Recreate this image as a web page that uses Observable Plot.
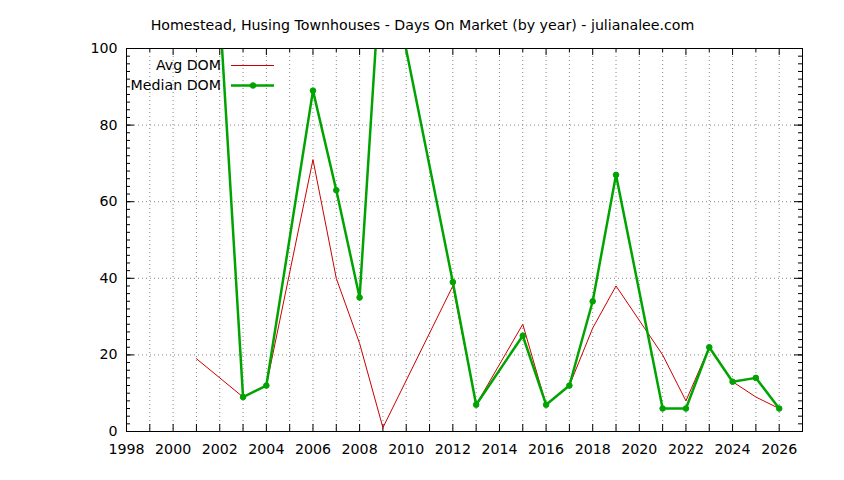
<!DOCTYPE html>
<html>
<head>
<meta charset="utf-8">
<script src="https://cdn.jsdelivr.net/npm/d3@7"></script>
<script src="https://cdn.jsdelivr.net/npm/@observablehq/plot@0.6"></script>
<style>
  html, body { margin: 0; padding: 0; background: #fff; }
  #chart { width: 844px; height: 480px; }
</style>
</head>
<body>
<div id="chart"></div>
<script>
const title = "Homestead, Husing Townhouses - Days On Market (by year) - julianalee.com";

const avgYears = [2001, 2003, 2004, 2006, 2007, 2008, 2009, 2012, 2013, 2015, 2016, 2017, 2018, 2019, 2021, 2022, 2023, 2024, 2025, 2026];
const avgDom   = [19, 9, 12, 71, 40, 23, 1, 38, 7, 28, 7, 12, 27, 38, 20, 8, 22, 13, 9, 6];

const medianYears = [2002, 2003, 2004, 2006, 2007, 2008, 2009, 2012, 2013, 2015, 2016, 2017, 2018, 2019, 2021, 2022, 2023, 2024, 2025, 2026];
const medianDom   = [110, 9, 12, 89, 63, 35, 130, 39, 7, 25, 7, 12, 34, 67, 6, 6, 22, 13, 14, 6];

const xTickLabels = [1998, 2000, 2002, 2004, 2006, 2008, 2010, 2012, 2014, 2016, 2018, 2020, 2022, 2024, 2026];
const xTicksAll = d3.range(1998, 2028);
const yTickLabels = [0, 20, 40, 60, 80, 100];
const yMinorTicks = d3.range(0, 101, 2);
const legendNames = ["Avg DOM", "Median DOM"];

const avgRows = avgYears.map((y, i) => ({year: y, value: avgDom[i]}));
const medRows = medianYears.map((y, i) => ({year: y, value: medianDom[i]}));

const W = 844, H = 480;
const mL = 126, mR = 42, mT = 48, mB = 49;
const pw = W - mL - mR, ph = H - mT - mB;
const RED = "#cc0000", GREEN = "#00a400";
const FONT = "DejaVu Sans";
const FS = 14.2;

const plot = Plot.plot({
  width: W, height: H,
  marginLeft: mL, marginRight: mR, marginTop: mT, marginBottom: mB,
  style: {fontFamily: FONT, fontSize: FS + "px", color: "#000", background: "#fff"},
  x: {domain: [1998, 2027], label: null},
  y: {domain: [0, 100], label: null},
  marks: [
    Plot.gridX(xTicksAll, {stroke: "#888", strokeOpacity: 1, strokeDasharray: "1,3"}),
    Plot.gridY(yTickLabels, {stroke: "#888", strokeOpacity: 1, strokeDasharray: "1,3"}),
    // inward ticks
    Plot.tickX(xTicksAll, {x: d => d, insetTop: ph - 7, stroke: "#000"}),
    Plot.tickX(xTickLabels, {x: d => d, insetBottom: ph - 7, stroke: "#000"}),
    Plot.tickX(xTicksAll.filter(d => d % 2), {x: d => d, insetBottom: ph - 4, stroke: "#000"}),
    Plot.tickY(yTickLabels, {y: d => d, insetRight: pw - 8, stroke: "#000"}),
    Plot.tickY(yTickLabels, {y: d => d, insetLeft: pw - 8, stroke: "#000"}),
    Plot.tickY(yMinorTicks, {y: d => d, insetRight: pw - 4, stroke: "#000"}),
    Plot.tickY(yMinorTicks, {y: d => d, insetLeft: pw - 4, stroke: "#000"}),
    Plot.axisX(xTickLabels, {tickSize: 0, tickPadding: 12, tickFormat: d => String(d), label: null, fontSize: FS}),
    Plot.axisY(yTickLabels, {tickSize: 0, tickPadding: 9, label: null, fontSize: FS}),
    Plot.lineY(avgRows, {x: "year", y: "value", stroke: RED, strokeWidth: 1, clip: true}),
    Plot.lineY(medRows, {x: "year", y: "value", stroke: GREEN, strokeWidth: 2.5, clip: true}),
    Plot.dot(medRows, {x: "year", y: "value", r: 2.8, fill: GREEN, stroke: GREEN, strokeWidth: 1, clip: true}),
    Plot.frame({stroke: "#000", strokeWidth: 1}),
    Plot.text([title], {frameAnchor: "top", dy: -29, dx: -42, fontSize: FS, fill: "#000"})
  ]
});

document.getElementById("chart").appendChild(plot);

// legend (inside plot area, top-left)
const svg = d3.select(plot);
const lg = svg.append("g").attr("font-family", FONT).attr("font-size", FS);
const rows = [
  {name: legendNames[0], color: RED, width: 1, marker: false, y: 65.5},
  {name: legendNames[1], color: GREEN, width: 2.5, marker: true, y: 85.5}
];
rows.forEach(r => {
  lg.append("text").attr("x", 221).attr("y", r.y).attr("dy", "0.35em")
    .attr("text-anchor", "end").attr("fill", "#000").text(r.name);
  lg.append("line").attr("x1", 231).attr("x2", 274).attr("y1", r.y).attr("y2", r.y)
    .attr("stroke", r.color).attr("stroke-width", r.width);
  if (r.marker) {
    lg.append("circle").attr("cx", 253).attr("cy", r.y).attr("r", 2.8)
      .attr("fill", r.color).attr("stroke", r.color);
  }
});
</script>
</body>
</html>
